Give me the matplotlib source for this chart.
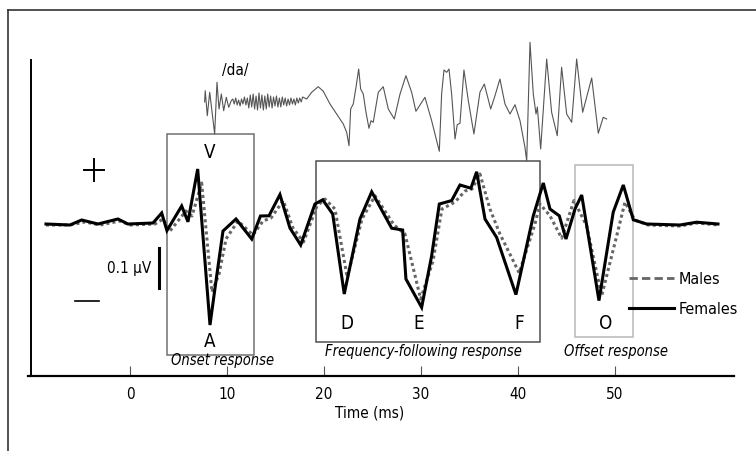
import matplotlib
matplotlib.use("Agg")
import matplotlib.pyplot as plt
from matplotlib.lines import Line2D
from matplotlib.patches import Rectangle

plt.rcParams['font.family'] = ['DejaVu Sans']
plt.rcParams['font.stretch'] = 'condensed'

# averaged responses, time in ms, amplitude in uV
females_t = [-8.66, -6.19, -4.98, -3.30, -1.24, -0.21, 2.37, 3.27, 3.81, 5.33, 5.98, 6.98,
             8.25, 8.94, 9.59, 10.93, 12.55, 13.45, 14.33, 15.46, 16.49, 17.60, 19.07, 19.87,
             20.90, 22.09, 23.71, 24.92, 26.98, 28.11, 28.45, 30.07, 31.10, 31.89, 33.16, 34.02,
             35.15, 35.74, 36.60, 37.80, 39.79, 41.58, 42.61, 43.30, 44.26, 44.95, 45.88, 46.57,
             48.35, 49.82, 50.86, 51.89, 53.27, 56.70, 58.42, 60.62]
females_v = [0.0025, 0.0, 0.0125, 0.0025, 0.015, 0.0025, 0.005, 0.03, -0.014, 0.0475, 0.008, 0.14,
             -0.25, -0.127, -0.015, 0.015, -0.035, 0.0225, 0.023, 0.076, -0.0075, -0.05, 0.0525, 0.063,
             0.0275, -0.1725, 0.015, 0.083, -0.008, -0.0125, -0.135, -0.206, -0.077, 0.0525, 0.061, 0.10,
             0.092, 0.133, 0.015, -0.031, -0.174, 0.023, 0.105, 0.04, 0.023, -0.035, 0.04, 0.075,
             -0.189, 0.032, 0.10, 0.013, 0.0025, 0.0, 0.007, 0.0025]

males_t = [-8.66, -6.19, -4.64, -3.09, -1.03, 0.0, 2.58, 3.40, 4.12, 5.77, 6.39, 7.39,
           8.45, 9.18, 9.90, 11.13, 12.68, 13.71, 14.54, 15.80, 16.80, 17.89, 19.28, 20.10,
           21.13, 22.40, 23.92, 25.26, 27.22, 28.35, 29.97, 31.24, 32.16, 33.51, 34.54, 35.26,
           36.08, 37.11, 38.14, 40.13, 41.75, 42.27, 43.30, 44.51, 45.77, 47.08, 48.63, 50.18,
           51.03, 52.06, 53.40, 56.70, 58.45, 60.62]
males_v = [0.0, 0.0, 0.0075, 0.0, 0.01, 0.0, 0.0025, 0.015, -0.015, 0.035, 0.0225, 0.105,
           -0.1675, -0.1225, -0.035, 0.01, -0.025, 0.01, 0.0175, 0.061, -0.0075, -0.0425, 0.0475, 0.065,
           0.04, -0.131, 0.015, 0.073, 0.0, -0.0225, -0.185, -0.09, 0.04, 0.0575, 0.085, 0.09,
           0.1275, 0.04, -0.0225, -0.12, 0.0025, 0.0525, 0.023, -0.033, 0.061, -0.002, -0.177, -0.027,
           0.057, 0.0125, 0.0, -0.0025, 0.005, 0.0]

# /da/ stimulus waveform (arbitrary units), drawn on the same time axis
stim_t = [7.69, 7.76, 7.97, 8.22, 8.45, 8.73, 8.97, 9.18, 9.42, 9.66, 9.93, 10.18, 10.44,
          10.6, 10.75, 10.9, 11.05, 11.2, 11.35, 11.5, 11.65, 11.8, 11.95, 12.1, 12.25, 12.4,
          12.55, 12.7, 12.85, 13.0, 13.15, 13.3, 13.45, 13.6, 13.75, 13.9, 14.05, 14.2, 14.35,
          14.5, 14.65, 14.8, 14.95, 15.1, 15.25, 15.4, 15.55, 15.7, 15.85, 16.0, 16.15, 16.3,
          16.45, 16.6, 16.75, 16.9, 17.05, 17.2, 17.35, 17.5, 17.65, 17.8,
          18.22, 18.73, 19.41, 19.93, 20.62, 21.31, 21.99, 22.34, 22.58, 22.75, 23.02, 23.30,
          23.58, 23.78, 24.05, 24.33, 24.64, 24.85, 25.08, 25.60, 26.11, 26.63, 27.25, 27.84,
          28.45, 29.04, 29.48, 30.41, 31.10, 31.89, 32.13, 32.37, 32.65, 32.89, 33.16, 33.51,
          33.74, 34.02, 34.43, 34.88, 35.46, 36.08, 36.53, 37.19, 37.63, 38.14, 38.66, 39.18,
          39.69, 40.21, 40.72, 40.90, 41.24, 41.58, 41.86, 42.00, 42.34, 42.96, 43.47, 44.05,
          44.50, 45.02, 45.54, 46.05, 46.67, 47.60, 48.28, 48.79, 49.14]
stim_a = [0, 11.3, -13.7, 9.7, -8.7, -32, 19.7, -7, 8, -8.7, 4.7, -5.3, 1.3,
          3, -2, 4, -3, 2, -4, 3, -2, 5, -3, 4, -6, 7,
          -5, 8, -7, 6, -8, 9, -6, 7, -8, 6, -7, 8, -5,
          6, -6, 5, -4, 6, -5, 4, -5, 5, -3, 4, -4, 3,
          -3, 4, -2, 3, -3, 4, -1, 4, 0, 5,
          3, 9.7, 15.3, 10.7, -2, -12, -22, -30.3, -43.7, -7, -2, 14.7,
          33, 13, 8, -10.3, -26.3, -18.7, -20.3, 9.7, 15.3, -7, -17, 8,
          26.3, 9.7, -9.3, 4.7, -18.7, -49.3, 8, 32, 29.7, 33, 8, -37,
          -22.7, -21.3, 32, 1.3, -32, 9.7, 18, -7, 6.3, 23, -2, -12,
          -2.7, -18.7, -45.3, -59, 59.7, 8, -12, -5, -47, 43, -10.3, -33.7,
          34.7, -12, -20.3, 43, -10.3, 24, -31.3, -15.3, -17]

ticks = [0, 10, 20, 30, 40, 50]

W, H = 756, 452
fig = plt.figure(figsize=(W / 100, H / 100), dpi=100)
ax = fig.add_axes([0, 0, 1, 1])
ax.set_xlim(-13.40, 64.54)
ax.set_ylim(-0.565, 0.565)
ax.patch.set_alpha(0)


def fp(x, y):
    return x / W, 1 - y / H


# outer frame (runs off the right and bottom)
fig.add_artist(Line2D([8 / W, 1], [1 - 11 / H, 1 - 11 / H], color='#333333', lw=1.2))
fig.add_artist(Line2D([8 / W, 8 / W], [0, 1 - 11 / H], color='#333333', lw=1.2))

# axes lines
for s in ['top', 'right', 'left']:
    ax.spines[s].set_visible(False)
ax.spines['bottom'].set_position(('data', -0.3775))
ax.spines['bottom'].set_bounds(-10.52, 62.27)
ax.spines['bottom'].set_linewidth(1.6)
ax.plot([-10.21, -10.21], [-0.3775, 0.4125], color='black', lw=1.4)
ax.set_yticks([])
ax.set_xticks(ticks)
ax.set_xticklabels([str(t) for t in ticks])
ax.tick_params(axis='x', direction='in', length=7, width=0.8, color='#555555',
               labelsize=11, pad=7)
ax.text(24.74, -0.4675, 'Time (ms)', ha='center', va='center', fontsize=11)

# response windows
ax.add_patch(Rectangle((3.78, -0.325), 9.0, 0.5525, fill=False, ec='#707070', lw=1.1))
ax.add_patch(Rectangle((19.14, -0.292), 23.16, 0.451, fill=False, ec='#505050', lw=1.1))
ax.add_patch(Rectangle((45.91, -0.281), 5.98, 0.432, fill=False, ec='#b8b8b8', lw=1.1))

# stimulus on its own amplitude scale
ax2 = ax.twinx()
ax2.set_ylim(-349, 103)
ax2.axis('off')
ax2.plot(stim_t, stim_a, color='#555555', lw=0.8)

# responses
ax.plot(males_t, males_v, color='#666666', lw=2.2, linestyle=(0, (1, 1)))
ax.plot(females_t, females_v, color='black', lw=2.2, solid_joinstyle='miter')

# peak labels
for lab, x, y in [('V', 209.3, 152), ('A', 209.3, 342), ('D', 347.3, 324),
                  ('E', 418.7, 324), ('F', 518.7, 324), ('O', 606, 324)]:
    fig.text(*fp(x, y), lab, ha='center', va='center', fontsize=13.5)

fig.text(*fp(223, 361), 'Onset response', ha='center', va='center', fontsize=10.5, style='italic')
fig.text(*fp(423, 352), 'Frequency-following response', ha='center', va='center',
         fontsize=10.5, style='italic')
fig.text(*fp(615.5, 352), 'Offset response', ha='center', va='center', fontsize=10.5,
         style='italic')
fig.text(*fp(235, 70), '/da/', ha='center', va='center', fontsize=11)

# polarity and scale bar
fig.add_artist(Line2D([84 / W, 104 / W], [1 - 171 / H] * 2, color='black', lw=1.4))
fig.add_artist(Line2D([94 / W] * 2, [1 - 160 / H, 1 - 182 / H], color='black', lw=1.4))
fig.add_artist(Line2D([75 / W, 99 / W], [1 - 302 / H] * 2, color='black', lw=1.2))
ax.plot([2.99, 2.99], [-0.0575, -0.1575], color='black', lw=2.2)
fig.text(*fp(151.5, 269), '0.1 μV', ha='right', va='center', fontsize=11)

# legend
fig.add_artist(Line2D([629 / W, 674 / W], [1 - 279 / H] * 2, color='#666666', lw=2,
                      linestyle=(0, (3, 1.5))))
fig.add_artist(Line2D([629 / W, 674 / W], [1 - 309 / H] * 2, color='black', lw=2.2))
fig.text(*fp(679, 279), 'Males', ha='left', va='center', fontsize=11.5)
fig.text(*fp(679, 309), 'Females', ha='left', va='center', fontsize=11.5)

fig.savefig('out.png', dpi=100)
